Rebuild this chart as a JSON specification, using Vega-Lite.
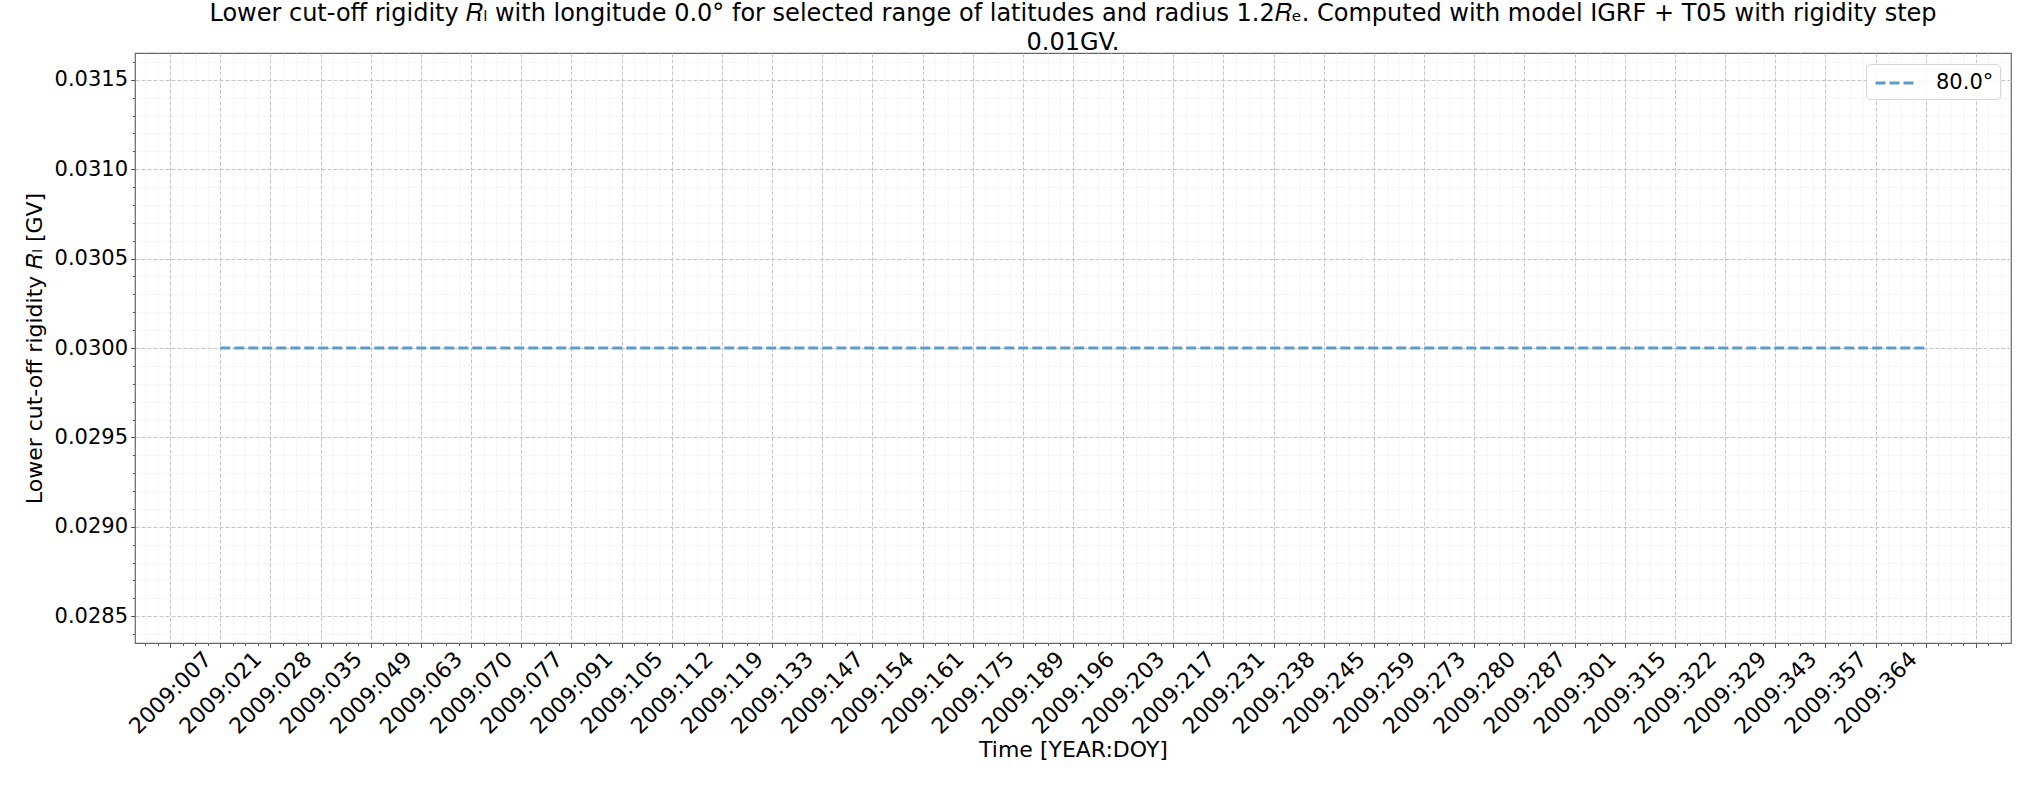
{
  "$schema": "https://vega.github.io/schema/vega-lite/v6.json",
  "autosize": {"type": "none"},
  "padding": {"left": 135, "top": 53, "right": 24, "bottom": 142},
  "width": 1876,
  "height": 590,
  "background": "white",
  "config": {
    "font": "DejaVu Sans",
    "view": {"stroke": "#666666", "strokeWidth": 1.2},
    "axis": {"domain": false, "labelFont": "DejaVu Sans", "titleFont": "DejaVu Sans", "labelColor": "black", "titleColor": "black", "tickColor": "#555555", "titleFontWeight": "normal"}
  },
  "title": {
    "text": ["Lower cut-off rigidity 𝑅ₗ with longitude 0.0° for selected range of latitudes and radius 1.2𝑅ₑ. Computed with model IGRF + T05 with rigidity step", "0.01GV."],
    "fontSize": 24,
    "fontWeight": "normal",
    "font": "DejaVu Sans",
    "color": "black",
    "anchor": "middle",
    "frame": "group",
    "lineHeight": 29.5,
    "offset": -2
  },
  "data": {
    "values": [
      {"t": 1, "rigidity": 0.03, "lat": "80.0°"},
      {"t": 2, "rigidity": 0.03, "lat": "80.0°"},
      {"t": 3, "rigidity": 0.03, "lat": "80.0°"},
      {"t": 4, "rigidity": 0.03, "lat": "80.0°"},
      {"t": 5, "rigidity": 0.03, "lat": "80.0°"},
      {"t": 6, "rigidity": 0.03, "lat": "80.0°"},
      {"t": 7, "rigidity": 0.03, "lat": "80.0°"},
      {"t": 8, "rigidity": 0.03, "lat": "80.0°"},
      {"t": 9, "rigidity": 0.03, "lat": "80.0°"},
      {"t": 10, "rigidity": 0.03, "lat": "80.0°"},
      {"t": 11, "rigidity": 0.03, "lat": "80.0°"},
      {"t": 12, "rigidity": 0.03, "lat": "80.0°"},
      {"t": 13, "rigidity": 0.03, "lat": "80.0°"},
      {"t": 14, "rigidity": 0.03, "lat": "80.0°"},
      {"t": 15, "rigidity": 0.03, "lat": "80.0°"},
      {"t": 16, "rigidity": 0.03, "lat": "80.0°"},
      {"t": 17, "rigidity": 0.03, "lat": "80.0°"},
      {"t": 18, "rigidity": 0.03, "lat": "80.0°"},
      {"t": 19, "rigidity": 0.03, "lat": "80.0°"},
      {"t": 20, "rigidity": 0.03, "lat": "80.0°"},
      {"t": 21, "rigidity": 0.03, "lat": "80.0°"},
      {"t": 22, "rigidity": 0.03, "lat": "80.0°"},
      {"t": 23, "rigidity": 0.03, "lat": "80.0°"},
      {"t": 24, "rigidity": 0.03, "lat": "80.0°"},
      {"t": 25, "rigidity": 0.03, "lat": "80.0°"},
      {"t": 26, "rigidity": 0.03, "lat": "80.0°"},
      {"t": 27, "rigidity": 0.03, "lat": "80.0°"},
      {"t": 28, "rigidity": 0.03, "lat": "80.0°"},
      {"t": 29, "rigidity": 0.03, "lat": "80.0°"},
      {"t": 30, "rigidity": 0.03, "lat": "80.0°"},
      {"t": 31, "rigidity": 0.03, "lat": "80.0°"},
      {"t": 32, "rigidity": 0.03, "lat": "80.0°"},
      {"t": 33, "rigidity": 0.03, "lat": "80.0°"},
      {"t": 34, "rigidity": 0.03, "lat": "80.0°"},
      {"t": 35, "rigidity": 0.03, "lat": "80.0°"}
    ]
  },
  "layer": [
    {
      "mark": {"type": "line", "opacity": 0},
      "encoding": {
        "x": {
          "field": "t", "type": "quantitative",
          "scale": {"domain": [-0.7, 36.7], "nice": false, "zero": false},
          "axis": {
            "orient": "bottom", "title": null, "labels": false, "ticks": true, "tickSize": 2.5,
            "grid": true, "gridColor": "#ebebeb", "gridDash": [2, 2], "gridWidth": 0.8,
            "values": [-0.5,-0.25,0.25,0.5,0.75,1.25,1.5,1.75,2.25,2.5,2.75,3.25,3.5,3.75,4.25,4.5,4.75,5.25,5.5,5.75,6.25,6.5,6.75,7.25,7.5,7.75,8.25,8.5,8.75,9.25,9.5,9.75,10.25,10.5,10.75,11.25,11.5,11.75,12.25,12.5,12.75,13.25,13.5,13.75,14.25,14.5,14.75,15.25,15.5,15.75,16.25,16.5,16.75,17.25,17.5,17.75,18.25,18.5,18.75,19.25,19.5,19.75,20.25,20.5,20.75,21.25,21.5,21.75,22.25,22.5,22.75,23.25,23.5,23.75,24.25,24.5,24.75,25.25,25.5,25.75,26.25,26.5,26.75,27.25,27.5,27.75,28.25,28.5,28.75,29.25,29.5,29.75,30.25,30.5,30.75,31.25,31.5,31.75,32.25,32.5,32.75,33.25,33.5,33.75,34.25,34.5,34.75,35.25,35.5,35.75,36.25,36.5]
          }
        },
        "y": {
          "field": "rigidity", "type": "quantitative",
          "scale": {"domain": [0.02835, 0.03165], "nice": false, "zero": false},
          "axis": {
            "orient": "left", "title": null, "labels": false, "ticks": true, "tickSize": 2.5,
            "grid": true, "gridColor": "#ebebeb", "gridDash": [2, 2], "gridWidth": 0.8,
            "values": [0.0284,0.0286,0.0287,0.0288,0.0289,0.0291,0.0292,0.0293,0.0294,0.0296,0.0297,0.0298,0.0299,0.0301,0.0302,0.0303,0.0304,0.0306,0.0307,0.0308,0.0309,0.0311,0.0312,0.0313,0.0314,0.0316]
          }
        }
      }
    },
    {
      "mark": {"type": "line", "strokeWidth": 3, "strokeDash": [10, 4]},
      "encoding": {
        "x": {
          "field": "t", "type": "quantitative",
          "scale": {"domain": [-0.7, 36.7], "nice": false, "zero": false},
          "axis": {
            "orient": "bottom", "title": "Time [YEAR:DOY]", "titleFontSize": 22,
            "titleY": 113, "titleBaseline": "alphabetic",
            "values": [0,1,2,3,4,5,6,7,8,9,10,11,12,13,14,15,16,17,18,19,20,21,22,23,24,25,26,27,28,29,30,31,32,33,34,35,36],
            "labelExpr": "datum.value <= 34 ? ['2009:007','2009:021','2009:028','2009:035','2009:049','2009:063','2009:070','2009:077','2009:091','2009:105','2009:112','2009:119','2009:133','2009:147','2009:154','2009:161','2009:175','2009:189','2009:196','2009:203','2009:217','2009:231','2009:238','2009:245','2009:259','2009:273','2009:280','2009:287','2009:301','2009:315','2009:322','2009:329','2009:343','2009:357','2009:364'][datum.value] : ''",
            "labelAngle": -45, "labelAlign": "center", "labelBaseline": "middle",
            "labelFontSize": 22, "labelPadding": 45, "tickSize": 4.5,
            "labelOverlap": false, "labelBound": false, "labelFlush": false,
            "grid": true, "gridColor": "#c4c4c4", "gridDash": [4, 2], "gridWidth": 1
          }
        },
        "y": {
          "field": "rigidity", "type": "quantitative",
          "scale": {"domain": [0.02835, 0.03165], "nice": false, "zero": false},
          "axis": {
            "orient": "left", "title": "Lower cut-off rigidity 𝑅ₗ [GV]", "titleFontSize": 22,
            "titleX": -94, "titleY": 295, "titleBaseline": "alphabetic", "titleAlign": "center", "titleAngle": -90,
            "values": [0.0285, 0.029, 0.0295, 0.03, 0.0305, 0.031, 0.0315],
            "format": ".4f", "labelFontSize": 21, "labelPadding": 3, "tickSize": 4.5,
            "labelOverlap": false, "labelBound": false, "labelFlush": false,
            "grid": true, "gridColor": "#c4c4c4", "gridDash": [4, 2], "gridWidth": 1
          }
        },
        "color": {
          "field": "lat", "type": "nominal",
          "scale": {"range": ["#5c9ccb"]},
          "legend": {
            "orient": "top-right", "offset": 11, "title": null, "padding": 6,
            "strokeColor": "#d6d6d6", "cornerRadius": 4, "fillColor": "rgba(255,255,255,0.85)",
            "symbolType": "M-0.826,0H2.565", "symbolSize": 529, "symbolStrokeWidth": 3,
            "symbolDash": [10, 4], "symbolStrokeColor": "#5c9ccb", "symbolFillColor": "transparent",
            "labelFontSize": 21, "labelOffset": 38, "labelFont": "DejaVu Sans", "labelColor": "black"
          }
        }
      }
    }
  ],
  "resolve": {"axis": {"x": "independent", "y": "independent"}}
}
